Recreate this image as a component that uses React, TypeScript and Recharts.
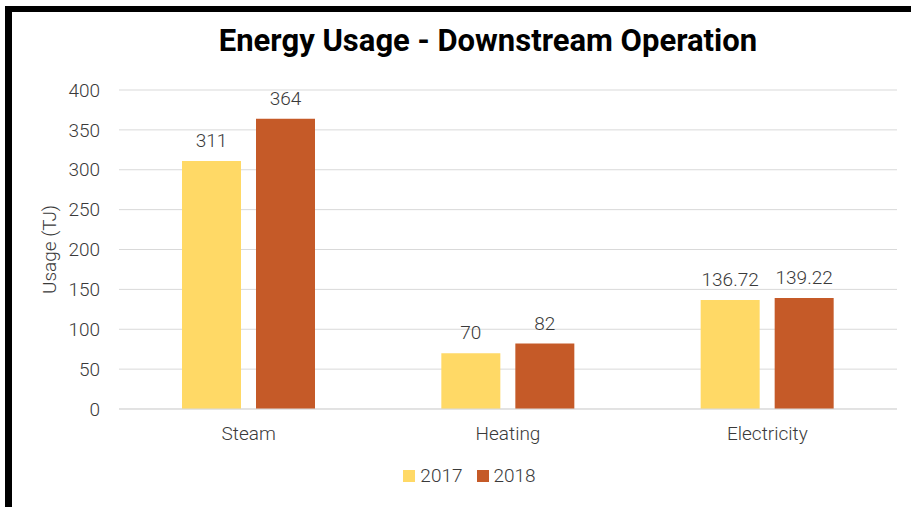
import { BarChart, Bar, XAxis, YAxis, CartesianGrid, Legend, LabelList } from "recharts"

const categories = ["Steam", "Heating", "Electricity"]
const usage2017 = [311, 70, 136.72]
const usage2018 = [364, 82, 139.22]
const yTicks = [0, 50, 100, 150, 200, 250, 300, 350, 400]

const data = categories.map((name, i) => ({
  name,
  y2017: usage2017[i],
  y2018: usage2018[i],
}))

const FONT = "Roboto, 'Noto Sans', sans-serif"
const TEXT = "#3a3a3a"
const textStyle = { fill: TEXT, fontFamily: FONT, fontWeight: 300, fontSize: 19 }

function LegendContent() {
  const items = [
    { label: "2017", color: "#FFD966" },
    { label: "2018", color: "#C55A28" },
  ]
  return (
    <div style={{ display: "flex", justifyContent: "center", gap: 14, fontFamily: FONT, fontWeight: 300, fontSize: 19, color: TEXT, paddingLeft: 42 }}>
      {items.map((it) => (
        <div key={it.label} style={{ display: "flex", alignItems: "center", gap: 5 }}>
          <span style={{ width: 12, height: 12, background: it.color, display: "inline-block" }} />
          <span>{it.label}</span>
        </div>
      ))}
    </div>
  )
}

export default function App() {
  return (
    <div style={{ position: "absolute", left: 0, top: 0, width: 911, height: 507, background: "#fff", overflow: "hidden" }}>
      <div style={{ position: "absolute", left: 5, top: 6, width: 920, height: 520, borderTop: "6px solid #000", borderLeft: "7px solid #000", boxSizing: "border-box" }} />
      <div style={{ position: "absolute", left: 0, top: 22, width: 976, textAlign: "center", fontFamily: FONT, fontWeight: 700, fontSize: 31, color: "#000" }}>
        Energy Usage - Downstream Operation
      </div>
      <div style={{ position: "absolute", left: 0, top: 0 }}>
        <BarChart width={911} height={507} data={data} margin={{ top: 90, right: 14, left: 0, bottom: 38 }} barSize={59} barGap={15}>
          <CartesianGrid vertical={false} stroke="#d9d9d9" strokeWidth={1} />
          <XAxis
            dataKey="name"
            height={30}
            tickLine={false}
            axisLine={{ stroke: "#d9d9d9" }}
            tickMargin={12}
            tick={textStyle}
          />
          <YAxis
            width={119}
            domain={[0, 400]}
            ticks={yTicks}
            tickLine={false}
            axisLine={false}
            tickMargin={13}
            tick={textStyle}
            label={{ value: "Usage (TJ)", angle: -90, position: "insideLeft", offset: 49, style: { ...textStyle, textAnchor: "middle" } }}
          />
          <Legend content={<LegendContent />} wrapperStyle={{ height: 30, top: 464 }} />
          <Bar dataKey="y2017" name="2017" fill="#FFD966" isAnimationActive={false}>
            <LabelList dataKey="y2017" position="top" offset={14} style={textStyle} />
          </Bar>
          <Bar dataKey="y2018" name="2018" fill="#C55A28" isAnimationActive={false}>
            <LabelList dataKey="y2018" position="top" offset={14} style={textStyle} />
          </Bar>
        </BarChart>
      </div>
    </div>
  )
}
